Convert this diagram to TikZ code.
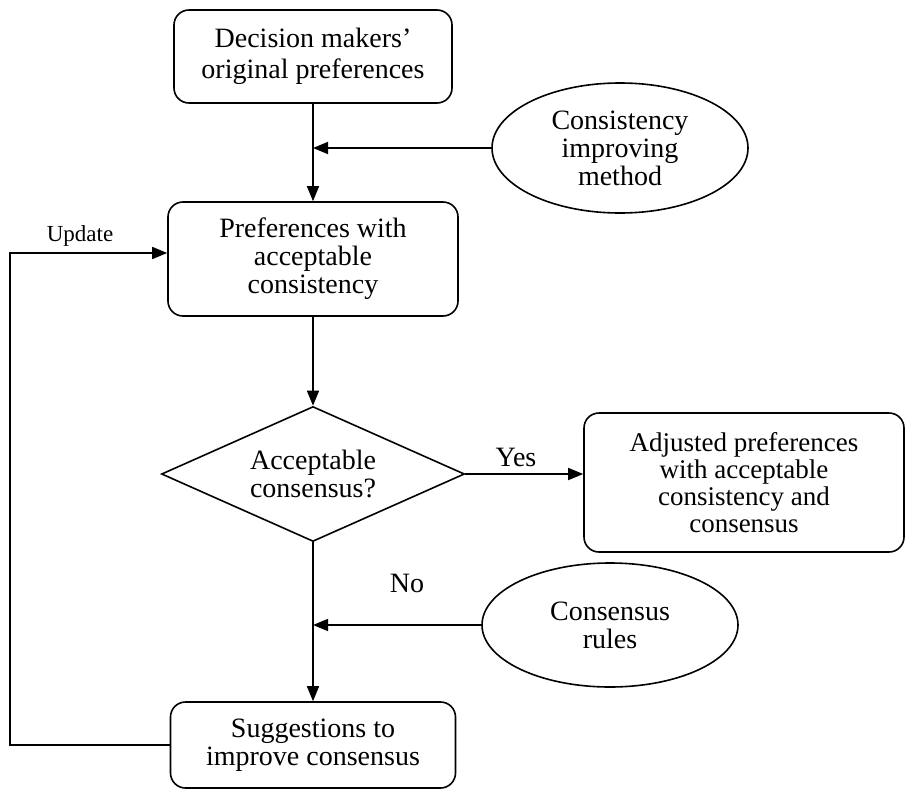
\documentclass[tikz,border=0pt]{standalone}
\usepackage{fontspec}
\setmainfont{Liberation Serif}
\usetikzlibrary{shapes.geometric,arrows.meta}

\begin{document}
\begin{tikzpicture}[x = 1pt, y = -1pt, line width = 1.6pt,
    every node/.style = {font = \fontsize{28}{28}\selectfont, align = center, inner sep = 0pt},
    box/.style = {draw, rounded corners = 15pt, minimum width = 282pt},
    oval/.style = {draw, ellipse},
    decide/.style = {draw, diamond, shape aspect = 2.2, minimum width = 303pt, minimum height = 135pt},
    >={Triangle[length = 15pt, width = 12pt]}]
    \useasboundingbox (0,0) rectangle (905,790);
        \node[box, minimum width = 278pt, minimum height = 93pt, font = \fontsize{28}{31}\selectfont] (orig) at (313,56.5)
            {Decision makers'\\original preferences};
        \node[oval, minimum width = 256pt, minimum height = 130pt] (method) at (620,148)
            {Consistency\\improving\\method};
        \node[box, minimum width = 290pt, minimum height = 114pt] (pref) at (313,259)
            {Preferences with\\acceptable\\consistency};
        \node[decide] (accept) at (313,474) {Acceptable\\consensus?};
        \node[box, minimum width = 320pt, minimum height = 139pt, font = \fontsize{27}{27}\selectfont] (final) at (744,482.5)
            {Adjusted preferences\\with acceptable\\consistency and\\consensus};
        \node[oval, minimum width = 256pt, minimum height = 124pt] (rules) at (610,625)
            {Consensus\\rules};
        \node[box, minimum width = 285pt, minimum height = 86pt] (suggest) at (313,745)
            {Suggestions to\\improve consensus};
        \node (yes) at (516,457) {Yes};
        \node (no) at (407,583) {No};
        \node[font = \fontsize{23}{24}\selectfont] (update) at (80,236) {Update};
        \coordinate (back) at (10,745);
        \coordinate (up) at (10,253);

        \draw[->] (orig) -- (pref);
        \draw[->] (method.west) -- (method.west -| orig.south);
        \draw[->] (pref) -- (accept);
        \draw[->] (accept.east) -- (accept.east -| final.west);
        \draw[->] (accept) -- (suggest);
        \draw[->] (rules.west) -- (rules.west -| accept.south);
        \draw[->] (suggest.west) -- (back) -- (up) -- (up -| pref.west);
\end{tikzpicture}
\end{document}
